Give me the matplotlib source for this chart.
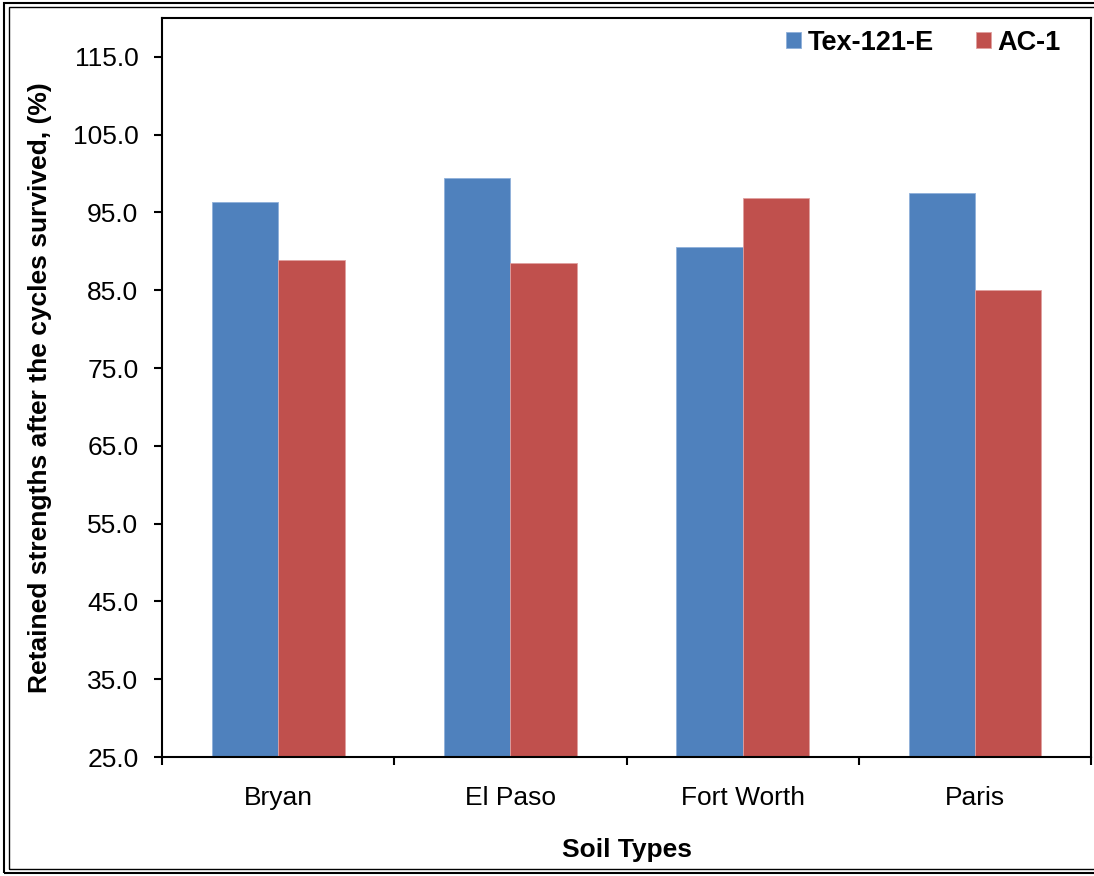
import matplotlib
matplotlib.use("Agg")
import matplotlib.pyplot as plt
import numpy as np
from matplotlib.patches import Rectangle

plt.rcParams['font.family'] = ['Liberation Sans', 'DejaVu Sans']

soil_types = ["Bryan", "El Paso", "Fort Worth", "Paris"]
tex_121_e = [96.4, 99.4, 90.6, 97.5]
ac_1 = [88.9, 88.5, 96.9, 85.0]
y_ticks = [25.0, 35.0, 45.0, 55.0, 65.0, 75.0, 85.0, 95.0, 105.0, 115.0]

blue = "#4F81BD"
red = "#C0504D"

fig = plt.figure(figsize=(10.94, 8.76), dpi=100)
ax = fig.add_axes([0.1481, 0.1358, 0.8492, 0.8437])

x = np.arange(len(soil_types))
w = 0.2857
base = 25.0
ax.bar(x - w / 2, np.array(tex_121_e) - base, w, bottom=base, color=blue,
       label="Tex-121-E", edgecolor="#8FB0DA", linewidth=0.6)
ax.bar(x + w / 2, np.array(ac_1) - base, w, bottom=base, color=red,
       label="AC-1", edgecolor="#E0A0A0", linewidth=0.6)

ax.set_xlim(-0.5, len(soil_types) - 0.5)
ax.set_ylim(25, 120)
ax.set_yticks(y_ticks)
ax.set_yticklabels([f"{v:.1f}" for v in y_ticks])

# category labels centred, ticks on category boundaries
ax.set_xticks(x)
ax.set_xticklabels(soil_types)
ax.set_xticks(np.arange(len(soil_types) + 1) - 0.5, minor=True)
ax.tick_params(axis='x', which='major', length=0, pad=21, labelsize=19)
ax.tick_params(axis='x', which='minor', length=6, width=1.5, direction='out')
ax.tick_params(axis='y', length=6, width=1.5, direction='out', pad=11, labelsize=19)

for s in ax.spines.values():
    s.set_linewidth(1.5)
    s.set_color("black")

ax.set_xlabel("Soil Types", fontsize=19, fontweight='bold', labelpad=20)
ax.set_ylabel("Retained strengths after the cycles survived, (%)",
              fontsize=19, fontweight='bold', labelpad=15)

ax.legend(loc='upper right', frameon=False, ncol=2,
          prop={'weight': 'bold', 'size': 19.5}, handlelength=0.55,
          handleheight=0.55, handletextpad=0.25, columnspacing=1.55,
          bbox_to_anchor=(0.988, 1.01), borderaxespad=0.3)

# double frame around the chart
for off, lw in ((0.0035, 1.5), (0.0080, 1.0)):
    fig.add_artist(Rectangle((off, off), 1.1, 1 - 2 * off, transform=fig.transFigure,
                             fill=False, edgecolor="black", linewidth=lw))

fig.savefig("out.png", dpi=100)
